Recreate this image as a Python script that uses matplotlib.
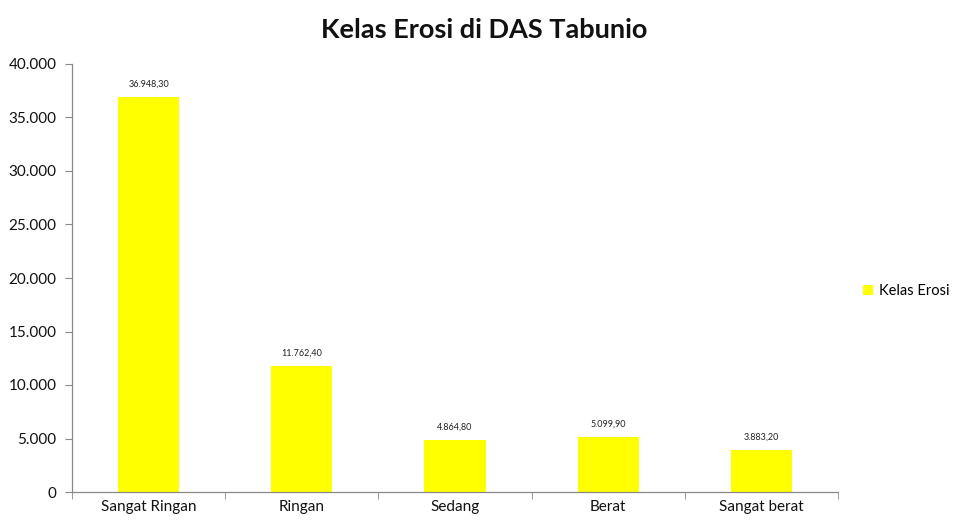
import matplotlib
matplotlib.use("Agg")
import matplotlib.pyplot as plt
from matplotlib.ticker import FuncFormatter, FixedLocator
from matplotlib.patches import Patch

categories = ["Sangat Ringan", "Ringan", "Sedang", "Berat", "Sangat berat"]
values = [36948.30, 11762.40, 4864.80, 5099.90, 3883.20]
series_name = "Kelas Erosi"
title = "Kelas Erosi di DAS Tabunio"
yticks = [0, 5000, 10000, 15000, 20000, 25000, 30000, 35000, 40000]

plt.rcParams["font.family"] = ["Lato", "DejaVu Sans"]


def fmt_int(v, _pos=None):
    return f"{v:,.0f}".replace(",", ".")


def fmt_dec(v):
    s = f"{v:,.2f}"
    return s.replace(",", "X").replace(".", ",").replace("X", ".")


fig = plt.figure(figsize=(9.54, 5.24), dpi=100)
ax = fig.add_axes([72 / 954, 32 / 524, (838 - 72) / 954, (492 - 64) / 524])

x = list(range(len(categories)))
color = "#FFFF00"
ax.bar(x, values, width=0.4, color=color, zorder=2)

for xi, v in zip(x, values):
    ax.annotate(fmt_dec(v), (xi, v), xytext=(0, 6), textcoords="offset points",
                ha="center", va="bottom", fontsize=6.5, color="#222222")

ax.set_xlim(-0.5, len(categories) - 0.5)
ax.set_ylim(0, 40000)
ax.yaxis.set_major_locator(FixedLocator(yticks))
ax.yaxis.set_major_formatter(FuncFormatter(fmt_int))

ax.set_xticks(x)
ax.set_xticklabels(categories)
ax.tick_params(axis="x", which="major", length=0, pad=6, labelsize=11, labelcolor="#111111")
ax.set_xticks([i + 0.5 for i in range(-1, len(categories))], minor=True)
ax.tick_params(axis="x", which="minor", length=5, color="#888888")
ax.tick_params(axis="y", length=5, color="#888888", labelsize=11, labelcolor="#111111", pad=6)

for side in ("top", "right"):
    ax.spines[side].set_visible(False)
for side in ("left", "bottom"):
    ax.spines[side].set_color("#888888")
    ax.spines[side].set_linewidth(0.9)

fig.text(484 / 954, 1 - 30 / 524, title, ha="center", va="center",
         fontsize=19.5, fontweight="bold", color="#111111")

handle = Patch(facecolor=color, edgecolor="none")
fig.legend([handle], [series_name], loc="center left",
           bbox_to_anchor=(863 / 954, 1 - 291 / 524), frameon=False,
           borderaxespad=0, borderpad=0,
           fontsize=10.5, handlelength=0.7, handleheight=0.7, handletextpad=0.4)

fig.savefig("out.png", dpi=100)
